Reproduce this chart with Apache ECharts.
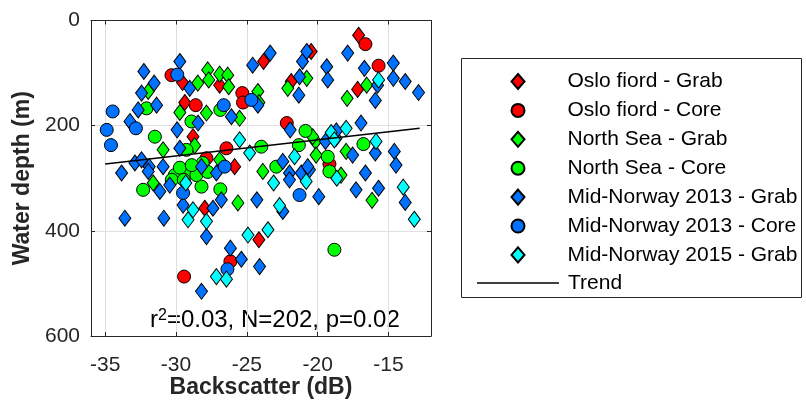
<!DOCTYPE html>
<html><head><meta charset="utf-8">
<script src="https://cdn.jsdelivr.net/npm/echarts@6/dist/echarts.min.js"></script>
<style>html,body{margin:0;padding:0;background:#fff}#c{width:806px;height:405px}</style>
</head><body><div id="c"></div>
<script>
// [backscatter (dB), water depth (m)]
const osloGrab = [[-29.54,118],[-29.38,156],[-28.8,221],[-26.92,123],[-23.82,78],[-21.87,116],[-20.46,59],[-17.11,28],[-17.18,131],[-25.86,278],[-27.97,357],[-24.15,417]];
const osloCore = [[-30.32,104],[-28.61,161],[-25.32,138],[-25.27,156],[-22.18,195],[-16.63,45],[-15.7,86],[-27.85,262],[-26.44,243],[-29.43,487],[-26.16,458],[-19.17,273]];
const northSeaGrab = [[-31.96,135],[-29.73,175],[-27.85,176],[-28.46,119],[-27.76,94],[-27.69,113],[-26.92,102],[-26.35,104],[-26.28,126],[-30.91,246],[-28.68,238],[-24.22,135],[-24.15,156],[-25.51,186],[-22.11,129],[-20.77,110],[-16.54,123],[-17.92,148],[-20.15,230],[-17.99,249],[-23.87,287],[-26.92,265],[-20.11,256],[-18.35,294],[-25.63,347],[-16.16,342],[-31.61,309],[-20.35,221]];
const northSeaCore = [[-32.08,167],[-31.49,221],[-29.26,246],[-28.91,192],[-26.87,170],[-28.11,271],[-23.98,240],[-21.33,237],[-20.86,210],[-22.92,278],[-19.29,259],[-19.17,287],[-16.77,235],[-18.82,436],[-32.32,322],[-28.2,316],[-26.87,321],[-30.08,294],[-29.26,290],[-28.56,294],[-29.73,280],[-28.89,275],[-30.3,303],[-29.45,303],[-27.76,288]];
const midNor13Grab = [[-29.73,78],[-32.27,97],[-29.03,129],[-31.54,119],[-32.43,138],[-31.37,161],[-32.67,170],[-33.25,192],[-28.44,195],[-29.92,208],[-29.73,243],[-32.9,271],[-32.43,265],[-31.89,278],[-33.84,290],[-30.91,278],[-28.2,278],[-24.59,85],[-23.35,62],[-21.07,78],[-20.77,59],[-21.28,107],[-21.33,142],[-24.22,161],[-26.09,183],[-21.94,208],[-19.36,88],[-19.29,113],[-17.88,62],[-16.7,91],[-14.66,81],[-14.66,110],[-13.82,116],[-12.88,137],[-15.77,123],[-15.93,152],[-16.94,195],[-18.7,224],[-19.45,230],[-15.93,252],[-14.59,249],[-14.47,275],[-17.53,256],[-22.46,268],[-21.99,290],[-21.16,290],[-20.58,284],[-16.63,290],[-20.7,278],[-21.99,303],[-19.92,335],[-17.29,322],[-15.7,319],[-13.82,346],[-24.29,341],[-22.46,363],[-26.8,341],[-27.39,357],[-27.85,411],[-26.16,433],[-25.39,454],[-24.1,468],[-28.2,515],[-33.61,376],[-30.86,376],[-29.5,351],[-31.14,325],[-30.44,313],[-31.96,287],[-27.15,290],[-18.68,210]];
const midNor13Core = [[-29.91,103],[-34.47,173],[-32.83,205],[-34.89,208],[-34.59,237],[-24.68,151],[-26.63,161],[-26.56,278],[-29.5,328],[-21.28,332],[-26.37,473]];
const midNor15Grab = [[-25.51,227],[-24.8,252],[-21.63,259],[-17.99,205],[-19.05,213],[-18.82,227],[-15.88,230],[-15.7,113],[-23.11,309],[-20.81,306],[-18.65,300],[-13.96,317],[-13.18,378],[-22.69,352],[-29.31,309],[-28.8,360],[-29.15,379],[-27.85,382],[-24.92,408],[-23.51,398],[-27.15,487],[-26.44,492]];
const trend = [[-35,273],[-12.8,205]];
const seriesNames = ['Oslo fiord - Grab','Oslo fiord - Core','North Sea - Grab','North Sea - Core','Mid-Norway 2013 - Grab','Mid-Norway 2013 - Core','Mid-Norway 2015 - Grab','Trend'];
const statsText = 'r{s|2}=0.03, N=202, p=0.02';
const xRange = [-36, -12];
const yRange = [0, 600];

const FONT = '"Liberation Sans", Arial, Helvetica, sans-serif';
const AX = '#262626';
const chart = echarts.init(document.getElementById('c'), null, {renderer:'canvas'});
const DIAMOND = [12,16], CIRCLE = 13;
function sc(name, data, symbol, color){
  return {name, type:'scatter', data, symbol, symbolSize: symbol==='diamond'?DIAMOND:CIRCLE,
    itemStyle:{color, borderColor:'#000', borderWidth:1, opacity:1},
    emphasis:{disabled:true}, silent:true, xAxisIndex:0, yAxisIndex:0};
}
const axisCommon = {
  axisLine:{show:true,onZero:false,lineStyle:{color:AX,width:1}},
  axisTick:{show:true,inside:true,length:4,lineStyle:{color:AX,width:1}}
};
const legendText = {fontFamily:FONT,fontSize:21,lineHeight:21,color:'#000'};
chart.setOption({
  animation:false,
  grid:{left:91, top:20.5, width:340, height:315.5, outerBoundsMode:'none', containLabel:false},
  xAxis:[
    Object.assign({type:'value', min:xRange[0], max:xRange[1], position:'bottom',
      name:'Backscatter (dB)', nameLocation:'middle', nameGap:40, nameMoveOverlap:false,
      nameTextStyle:{fontFamily:FONT,fontSize:23,fontWeight:'bold',color:AX},
      axisLabel:{show:true,showMinLabel:false,showMaxLabel:false,margin:19,fontFamily:FONT,fontSize:21,color:AX},
      splitLine:{show:true,lineStyle:{color:'#dfdfdf',width:1}}}, axisCommon),
    Object.assign({type:'value', min:xRange[0], max:xRange[1], position:'top',
      axisLabel:{show:false}, splitLine:{show:false}}, axisCommon)
  ],
  yAxis:[
    Object.assign({type:'value', min:yRange[0], max:yRange[1], interval:200, inverse:true, position:'left',
      name:'Water depth (m)', nameLocation:'middle', nameGap:57, nameRotate:90, nameMoveOverlap:false,
      nameTextStyle:{fontFamily:FONT,fontSize:23,fontWeight:'bold',color:AX},
      axisLabel:{show:true,margin:11,fontFamily:FONT,fontSize:21,color:AX},
      splitLine:{show:true,lineStyle:{color:'#dfdfdf',width:1}}}, axisCommon),
    Object.assign({type:'value', min:yRange[0], max:yRange[1], interval:200, inverse:true, position:'right',
      axisLabel:{show:false}, splitLine:{show:false}}, axisCommon)
  ],
  legend:[
    {orient:'vertical', left:505.5, top:66, itemWidth:13, itemHeight:15, itemGap:7.9,
     selectedMode:false, data:seriesNames.slice(0,7), textStyle:Object.assign({padding:[0,0,0,38]}, legendText)},
    {orient:'vertical', left:472, top:267.5, itemWidth:82, itemHeight:1.5, icon:'rect',
     selectedMode:false, data:[seriesNames[7]], textStyle:Object.assign({padding:[0,0,0,4]}, legendText)}
  ],
  graphic:[
    {type:'rect', shape:{x:461.5,y:58.5,width:340,height:239}, style:{fill:'none',stroke:AX,lineWidth:1}, silent:true},
    {type:'text', x:150, y:320, style:{text:statsText, fontFamily:FONT, fontSize:24, fill:'#000', verticalAlign:'middle', align:'left',
      rich:{s:{fontFamily:FONT, fontSize:16, verticalAlign:'top', lineHeight:24}}}, silent:true}
  ],
  series:[
    sc(seriesNames[0], osloGrab, 'diamond', '#FF0000'),
    sc(seriesNames[1], osloCore, 'circle', '#FF0000'),
    sc(seriesNames[2], northSeaGrab, 'diamond', '#00FF00'),
    sc(seriesNames[3], northSeaCore, 'circle', '#00FF00'),
    sc(seriesNames[4], midNor13Grab, 'diamond', '#0072FF'),
    sc(seriesNames[5], midNor13Core, 'circle', '#0072FF'),
    sc(seriesNames[6], midNor15Grab, 'diamond', '#00FFFF'),
    {name:seriesNames[7], type:'line', data:trend, symbol:'none', silent:true,
      lineStyle:{color:'#000',width:1.5}, itemStyle:{color:'#000'}, emphasis:{disabled:true}}
  ]
});
</script></body></html>
